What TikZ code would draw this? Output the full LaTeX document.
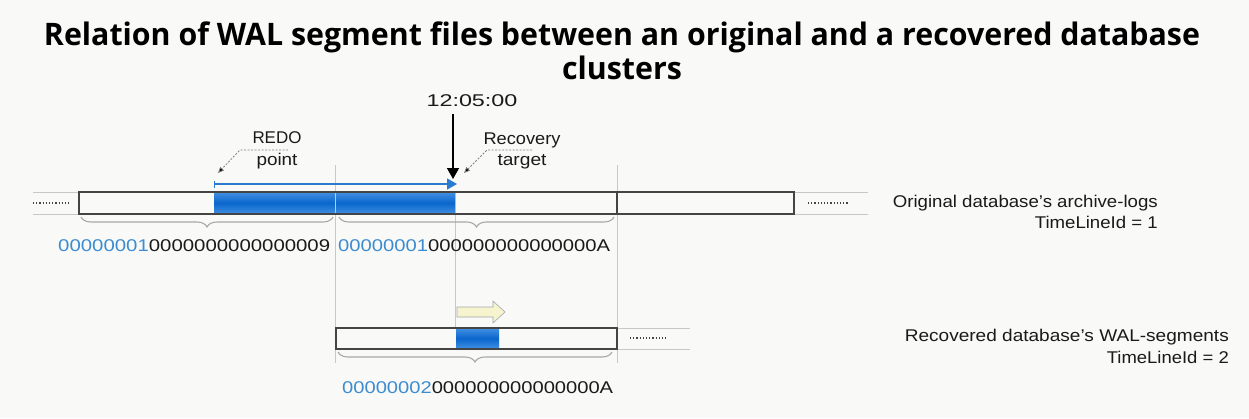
\documentclass[tikz,border=0pt]{standalone}
\usepackage{fontspec}
\setmainfont{Liberation Sans}
\newfontfamily\titlefont{Open Sans}
\usetikzlibrary{arrows.meta,decorations.pathreplacing}
\definecolor{bg}{HTML}{F9FAF8}
\definecolor{fillblue}{HTML}{0A66CC}
\definecolor{edgeblue}{HTML}{3D8DE0}
\definecolor{arrblue}{HTML}{2A7AD0}
\definecolor{lblblue}{HTML}{3D8BD0}
\definecolor{guide}{HTML}{C8C8C8}
\definecolor{bracec}{HTML}{A8A8A8}
\definecolor{barline}{HTML}{444444}
\definecolor{txt}{HTML}{1A1A1A}
\definecolor{yel}{HTML}{F6F3CF}
\newcommand\fitw[2]{\resizebox{#1pt}{\height}{#2}}
\begin{document}
\begin{tikzpicture}[x=1pt,y=-1pt,
  guideline/.style={guide,line width=0.8pt},
  barbox/.style={draw=barline,line width=1.3pt},
  bluefill/.style={top color=edgeblue,bottom color=edgeblue,middle color=fillblue,draw=none},
  dots/.style={barline,line width=1.2pt,dash pattern=on 1.2pt off 2pt},
  bracestyle/.style={bracec,line width=1.1pt,decorate,decoration={brace,mirror,amplitude=10pt}},
  lbl/.style={inner sep=0pt,text=txt,font=\fontsize{17}{20}\selectfont},
  leader/.style={gray,line width=0.8pt,dash pattern=on 2pt off 1.5pt,-{Triangle[length=6pt,width=5pt,fill=black]}},
]
\useasboundingbox[fill=bg] (0,0) rectangle (1249,418);
% title
\node[inner sep=0pt,anchor=north,text=black] (title) at (622,22) {\fitw{1156}{\titlefont\bfseries\fontsize{31}{33}\selectfont
\begin{tabular}{@{}c@{}}Relation of WAL segment files between an original and a recovered database\\clusters\end{tabular}}};

% guide lines
\draw[guideline] (335,165) -- (335,363);
\draw[guideline] (617,165) -- (617,363);
\draw[guideline] (455,192) -- (455,328);
\draw[guideline] (33,192) -- (79,192) (33,214) -- (79,214);
\draw[guideline] (794,192) -- (868,192) (794,214) -- (868,214);
\draw[guideline] (617,328) -- (690,328) (617,349) -- (690,349);

% bar 1
\fill[bluefill] (214,193) rectangle (455,213);
\draw[guideline] (335,192) -- (335,214);
\draw[barbox] (79,192) rectangle (794,214);
\draw[barbox] (617,192) -- (617,214);
\draw[dots] (33,203) -- (71,203);
\draw[dots] (808,203) -- (848,203);

% bar 2
\fill[bluefill] (456,329) rectangle (499,348);
\draw[barbox] (336,328) rectangle (617,349);
\draw[dots] (630,338) -- (668,338);

% braces
\draw[bracestyle] (81,217) -- (333,217);
\draw[bracestyle] (339,217) -- (614,217);
\draw[bracestyle] (338,352) -- (612,352);

% segment labels
\node[lbl,anchor=base west] (seg1) at (58,251) {\fitw{272}{\textcolor{lblblue}{00000001}0000000000000009}};
\node[lbl,anchor=base west] (seg2) at (338,251) {\fitw{272}{\textcolor{lblblue}{00000001}000000000000000A}};
\node[lbl,anchor=base west] (seg3) at (342,393) {\fitw{271}{\textcolor{lblblue}{00000002}000000000000000A}};

% redo -> target arrow
\coordinate (redo) at (214,184);
\coordinate (tgt) at (457,184);
\draw[arrblue,line width=1.3pt,{Bar[width=7pt]}-{Triangle[length=10pt,width=11pt]}] (redo) -- (tgt);

% 12:05:00
\node[lbl,anchor=base] (time) at (472,106) {\fitw{91}{12:05:00}};
\coordinate (timetip) at (453,179);
\draw[black,line width=1.4pt,-{Triangle[length=11pt,width=12pt]}] (453,114) -- (timetip);

% REDO point
\node[lbl,anchor=base] (redo1) at (277,143) {\fitw{49}{REDO}};
\node[lbl,anchor=base] (redo2) at (277,165) {\fitw{41}{point}};
\coordinate (rl1) at (288,150);
\coordinate (rl2) at (240,150);
\coordinate (rl3) at (218,173);
\draw[leader] (rl1) -- (rl2) -- (rl3);

% Recovery target
\node[lbl,anchor=base] (rec1) at (522,144) {\fitw{77}{Recovery}};
\node[lbl,anchor=base] (rec2) at (522,165) {\fitw{49}{target}};
\coordinate (tl1) at (532,150);
\coordinate (tl2) at (487,150);
\coordinate (tl3) at (464,173);
\draw[leader] (tl1) -- (tl2) -- (tl3);

% yellow arrow
\draw[fill=yel,draw=gray!70,line width=0.6pt] (457,307) -- (493,307) -- (493,301) -- (505,312) -- (493,323) -- (493,317) -- (457,317) -- cycle;

% right labels
\node[lbl,anchor=base east] (orig1) at (1158,207) {\fitw{265}{Original database’s archive-logs}};
\node[lbl,anchor=base east] (orig2) at (1158,228) {\fitw{123}{TimeLineId = 1}};
\node[lbl,anchor=base east] (recv1) at (1229,341) {\fitw{324}{Recovered database’s WAL-segments}};
\node[lbl,anchor=base east] (recv2) at (1229,363) {\fitw{122}{TimeLineId = 2}};
\end{tikzpicture}
\end{document}
